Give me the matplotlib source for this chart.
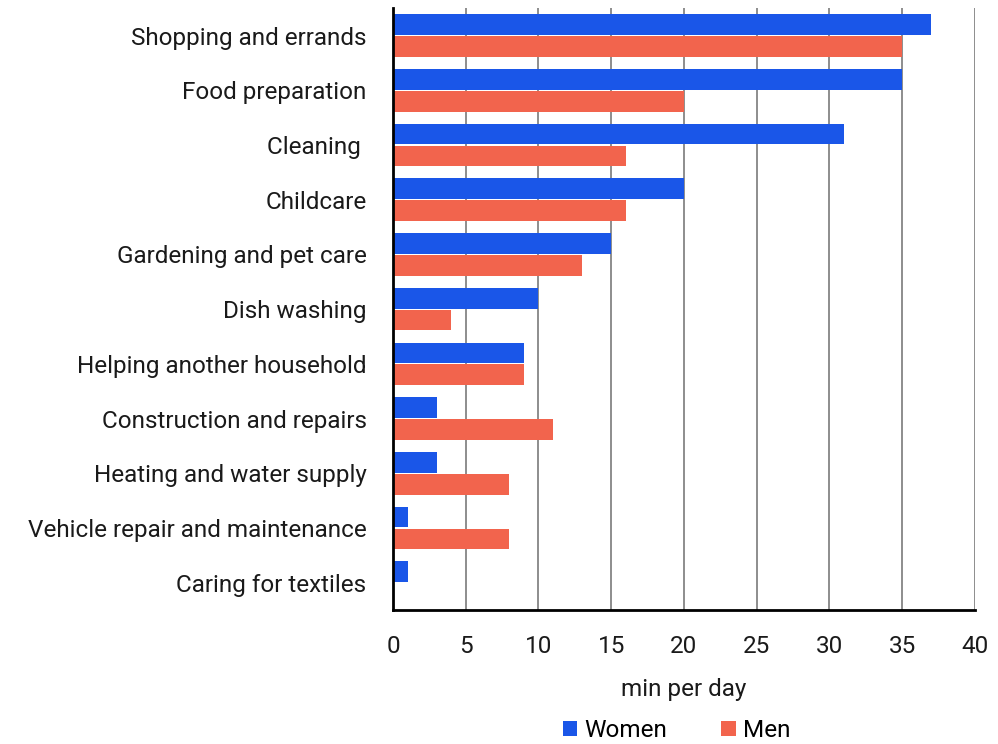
import matplotlib.pyplot as plt
import numpy as np

categories = ["Shopping and errands", "Food preparation", "Cleaning ", "Childcare",
              "Gardening and pet care", "Dish washing", "Helping another household",
              "Construction and repairs", "Heating and water supply",
              "Vehicle repair and maintenance", "Caring for textiles"]
women = [37, 35, 31, 20, 15, 10, 9, 3, 3, 1, 1]
men = [35, 20, 16, 16, 13, 4, 9, 11, 8, 8, 0]
xticks = [0, 5, 10, 15, 20, 25, 30, 35, 40]

plt.rcParams['font.family'] = ['Roboto', 'DejaVu Sans']

fig = plt.figure(figsize=(9.98, 7.44), dpi=100)
ax = fig.add_axes([0.3938, 0.180, 0.583, 0.809])

y = np.arange(len(categories))
h = 0.38
ax.barh(y - h / 2 - 0.01, women, height=h, color='#1a56e8', label='Women')
ax.barh(y + h / 2 + 0.01, men, height=h, color='#f2644d', label='Men')

ax.set_ylim(len(categories) - 0.5, -0.5)
ax.set_xlim(0, 40)
ax.set_xticks(xticks)
ax.set_yticks(y)
ax.set_yticklabels(categories)
ax.tick_params(axis='both', length=0, labelsize=17.5, colors='#1a1a1a')
ax.tick_params(axis='x', pad=18)
ax.tick_params(axis='y', pad=19)
ax.grid(axis='x', color='#7a7a7a', linewidth=1.2)
ax.set_axisbelow(True)
for s in ['top', 'right']:
    ax.spines[s].set_visible(False)
ax.spines['left'].set_linewidth(2)
ax.spines['bottom'].set_linewidth(2)
ax.set_xlabel('min per day', fontsize=17.5, labelpad=14, color='#1a1a1a')

fig.legend(loc='lower center', bbox_to_anchor=(0.678, -0.027), ncol=2, frameon=False,
           fontsize=17.5, handlelength=0.6, handleheight=0.6, columnspacing=2.2,
           handletextpad=0.3)

fig.savefig('out.png', dpi=100)
